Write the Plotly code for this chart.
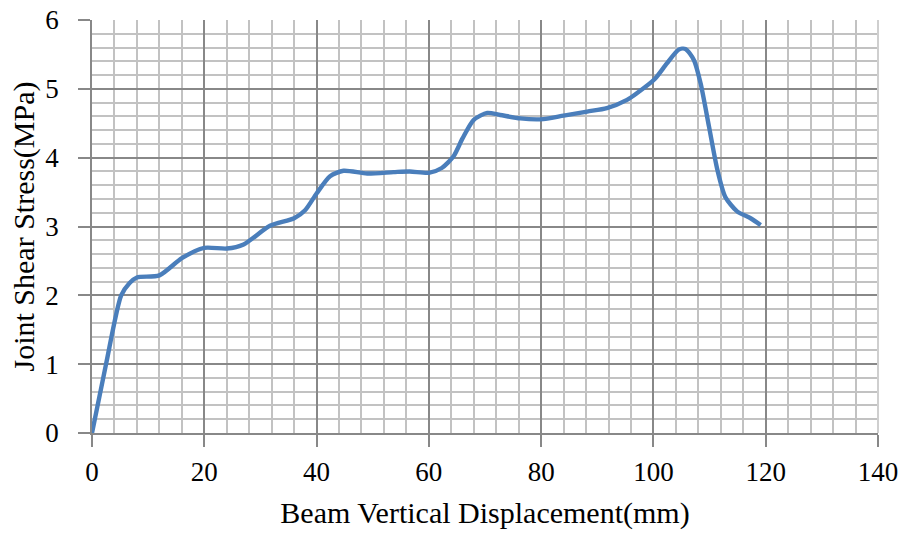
import plotly.graph_objects as go

# Beam vertical displacement (mm)
displacement = [0, 2.5, 5.2, 6.7, 8, 12, 16, 20, 24, 27, 31.7, 36, 38, 40, 42.4, 44.8,
                49, 53.7, 56.6, 60, 62.3, 64.4, 66, 68, 70.4, 72.7, 76.3, 80.4, 84,
                88.2, 91.7, 95.3, 97.1, 100.2, 102.4, 104.5, 105.7, 107.2, 108.4,
                109.9, 111.4, 112.8, 114.9, 117.3, 119.1]
# Joint shear stress (MPa)
stress = [0, 1.0, 2.0, 2.18, 2.26, 2.29, 2.54, 2.69, 2.68, 2.74, 3.01, 3.12, 3.24, 3.48,
          3.73, 3.81, 3.77, 3.79, 3.80, 3.78, 3.85, 4.02, 4.28, 4.55, 4.65, 4.62, 4.57,
          4.56, 4.61, 4.67, 4.72, 4.84, 4.94, 5.14, 5.37, 5.57, 5.58, 5.42, 5.08, 4.45,
          3.82, 3.43, 3.22, 3.12, 3.02]

x_ticks = [0, 20, 40, 60, 80, 100, 120, 140]
y_ticks = [0, 1, 2, 3, 4, 5, 6]

FONT = "Liberation Serif"
MAJOR = "#888888"
MINOR = "#c2c2c2"

fig = go.Figure()
fig.add_trace(go.Scatter(
    x=displacement, y=stress, mode="lines",
    line=dict(color="#4a7ebb", width=4.4, shape="spline", smoothing=0.7),
    showlegend=False,
))

fig.update_layout(
    width=906, height=535,
    margin=dict(l=92, r=28, t=20, b=102),
    paper_bgcolor="white", plot_bgcolor="white",
    font=dict(family=FONT, color="black"),
)

fig.update_xaxes(
    range=[0, 140], tickvals=x_ticks, ticktext=[str(v) for v in x_ticks],
    showgrid=True, gridcolor=MAJOR, gridwidth=1.5,
    minor=dict(dtick=4, tick0=0, showgrid=True, gridcolor=MINOR, gridwidth=1.7, ticks=""),
    showline=True, linecolor=MAJOR, linewidth=1.5,
    ticks="outside", ticklen=12, tickcolor=MAJOR, tickwidth=1.5,
    tickfont=dict(family=FONT, size=27, color="black"),
    ticklabelstandoff=2,
    automargin=False,
    title=dict(text="Beam Vertical Displacement(mm)", font=dict(family=FONT, size=30, color="black"),
               standoff=16),
    zeroline=False,
)
fig.update_yaxes(
    range=[0, 6], tickvals=y_ticks, ticktext=[str(v) for v in y_ticks],
    showgrid=True, gridcolor=MAJOR, gridwidth=1.5,
    minor=dict(dtick=0.2, tick0=0, showgrid=True, gridcolor=MINOR, gridwidth=1.7, ticks=""),
    showline=True, linecolor=MAJOR, linewidth=1.5,
    ticks="outside", ticklen=12, tickcolor=MAJOR, tickwidth=1.5,
    tickfont=dict(family=FONT, size=27, color="black"),
    ticklabelstandoff=14,
    automargin=False,
    title=dict(text="Joint Shear Stress(MPa)", font=dict(family=FONT, size=30, color="black"),
               standoff=2),
    zeroline=False,
)

# light plot-area border on the right side
fig.add_shape(type="line", xref="paper", yref="paper", x0=1, x1=1, y0=0, y1=1,
              line=dict(color="#cfcfcf", width=2), layer="above")

fig.write_html("out.html")
